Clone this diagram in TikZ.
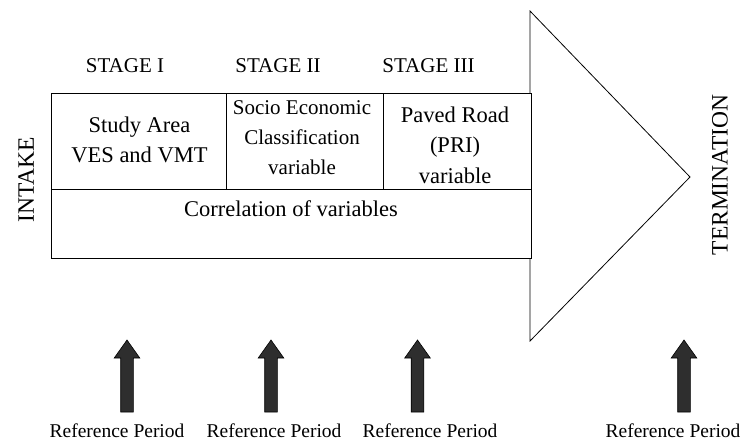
\documentclass[tikz,border=0pt]{standalone}
\usepackage{fontspec}
\setmainfont{Liberation Serif}
\begin{document}
\begin{tikzpicture}[x=1pt,y=-1pt,
  line width=0.8pt,
  cell/.style={draw, inner sep=0pt, outer sep=0pt, minimum height=96pt},
  celltext/.style={align=center, inner sep=0pt, font=\fontsize{22.5}{29.5}\selectfont},
  stagetext/.style={anchor=base, inner sep=0pt, font=\fontsize{21}{25}\selectfont},
  sidetext/.style={rotate=90, inner sep=0pt, font=\fontsize{23.5}{28}\selectfont},
  reftext/.style={anchor=base, inner sep=0pt, font=\fontsize{19.5}{23}\selectfont},
  refarrow/.style={draw=black, line width=0.6pt, fill=black!82}
]
\useasboundingbox (0,0) rectangle (742,440);

% big arrow head (triangle)
\coordinate (tritop) at (530,11);
\coordinate (tritip) at (690,177);
\coordinate (tribot) at (530,341);
\draw (530,93) -- (tritop) -- (tritip) -- (tribot) -- (530,258);

% cells
\node[cell, minimum width=175pt] (c1) at (138.5,141) {};
\node[cell, minimum width=157pt] (c2) at (304.5,141) {};
\node[cell, minimum width=148pt] (c3) at (457,141) {};
\node[cell, minimum width=480pt, minimum height=69pt] (corr) at (291,223.5) {};

% cell texts
\node[celltext] (t1) at (139.5,140) {Study Area\\VES and VMT};
\node[celltext, font=\fontsize{21}{30}\selectfont] (t2) at (302,138) {Socio Economic\\Classification\\variable};
\node[celltext, font=\fontsize{22.5}{30.5}\selectfont] (t3) at (455,145) {Paved Road\\(PRI)\\variable};
\node[celltext, anchor=base] (t4) at (291,216) {Correlation of variables};

% stage labels
\node[stagetext] (s1) at (125,72) {STAGE I};
\node[stagetext] (s2) at (278,72) {STAGE II};
\node[stagetext] (s3) at (428.5,72) {STAGE III};

% side labels
\node[sidetext] (intake) at (26,180) {INTAKE};
\node[sidetext] (term) at (720,175) {TERMINATION};

% reference periods
\node[reftext] (r1) at (117,437) {Reference Period};
\node[reftext] (r2) at (274,437) {Reference Period};
\node[reftext] (r3) at (430,437) {Reference Period};
\node[reftext] (r4) at (673,437) {Reference Period};

% reference arrows
\foreach \n/\cx in {1/127,2/271,3/417.5,4/684}{
  \coordinate (ab\n) at (\cx,412);
  \coordinate (at\n) at (\cx,340);
  \filldraw[refarrow] ([xshift=-6.3pt]ab\n) -- ([xshift=-6.3pt]\cx,358)
    -- ([xshift=-12.8pt]\cx,358) -- (at\n) -- ([xshift=12.8pt]\cx,358)
    -- ([xshift=6.3pt]\cx,358) -- ([xshift=6.3pt]ab\n) -- cycle;
}
\end{tikzpicture}
\end{document}
